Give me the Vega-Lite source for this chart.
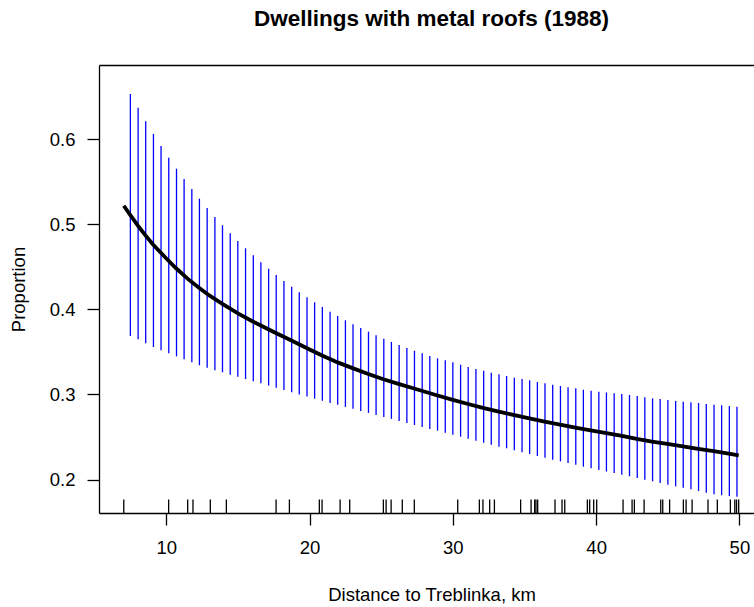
{
  "$schema": "https://vega.github.io/schema/vega-lite/v6.json",
  "width": 655,
  "height": 448,
  "autosize": {"type": "none"},
  "padding": {"left": 99, "top": 65, "right": 0, "bottom": 94},
  "background": "white",
  "config": {
    "view": {"stroke": null},
    "font": "Liberation Sans",
    "axis": {"grid": false, "domainColor": "black", "domainWidth": 1.3, "tickColor": "black", "tickWidth": 1.3, "labelColor": "black", "titleColor": "black", "labelFont": "Liberation Sans", "titleFont": "Liberation Sans", "labelFontSize": 18.5, "titleFontSize": 18.5, "titleFontWeight": "normal"}
  },
  "title": {
    "text": "Dwellings with metal roofs (1988)",
    "anchor": "middle",
    "frame": "group",
    "offset": 35,
    "dx": 5,
    "fontSize": 22.5,
    "fontWeight": "bold",
    "font": "Liberation Sans",
    "color": "black"
  },
  "datasets": {
    "band": [
      {"x": 7.49, "lo": 0.3688, "hi": 0.6535},
      {"x": 8.03, "lo": 0.3649, "hi": 0.6374},
      {"x": 8.56, "lo": 0.3602, "hi": 0.6214},
      {"x": 9.10, "lo": 0.3559, "hi": 0.6065},
      {"x": 9.63, "lo": 0.3520, "hi": 0.5924},
      {"x": 10.17, "lo": 0.3485, "hi": 0.5786},
      {"x": 10.71, "lo": 0.3449, "hi": 0.5656},
      {"x": 11.24, "lo": 0.3414, "hi": 0.5535},
      {"x": 11.78, "lo": 0.3379, "hi": 0.5418},
      {"x": 12.31, "lo": 0.3344, "hi": 0.5304},
      {"x": 12.85, "lo": 0.3315, "hi": 0.5194},
      {"x": 13.39, "lo": 0.3285, "hi": 0.5088},
      {"x": 13.92, "lo": 0.3261, "hi": 0.4991},
      {"x": 14.46, "lo": 0.3233, "hi": 0.4896},
      {"x": 14.99, "lo": 0.3209, "hi": 0.4806},
      {"x": 15.53, "lo": 0.3182, "hi": 0.4720},
      {"x": 16.07, "lo": 0.3156, "hi": 0.4638},
      {"x": 16.60, "lo": 0.3132, "hi": 0.4556},
      {"x": 17.14, "lo": 0.3105, "hi": 0.4480},
      {"x": 17.67, "lo": 0.3078, "hi": 0.4406},
      {"x": 18.21, "lo": 0.3052, "hi": 0.4335},
      {"x": 18.75, "lo": 0.3026, "hi": 0.4268},
      {"x": 19.28, "lo": 0.3000, "hi": 0.4202},
      {"x": 19.82, "lo": 0.2975, "hi": 0.4144},
      {"x": 20.35, "lo": 0.2951, "hi": 0.4085},
      {"x": 20.89, "lo": 0.2926, "hi": 0.4029},
      {"x": 21.43, "lo": 0.2901, "hi": 0.3974},
      {"x": 21.96, "lo": 0.2878, "hi": 0.3924},
      {"x": 22.50, "lo": 0.2854, "hi": 0.3873},
      {"x": 23.03, "lo": 0.2831, "hi": 0.3826},
      {"x": 23.57, "lo": 0.2807, "hi": 0.3782},
      {"x": 24.11, "lo": 0.2784, "hi": 0.3739},
      {"x": 24.64, "lo": 0.2760, "hi": 0.3696},
      {"x": 25.18, "lo": 0.2736, "hi": 0.3656},
      {"x": 25.71, "lo": 0.2713, "hi": 0.3618},
      {"x": 26.25, "lo": 0.2689, "hi": 0.3582},
      {"x": 26.79, "lo": 0.2666, "hi": 0.3547},
      {"x": 27.32, "lo": 0.2642, "hi": 0.3515},
      {"x": 27.86, "lo": 0.2619, "hi": 0.3485},
      {"x": 28.39, "lo": 0.2595, "hi": 0.3453},
      {"x": 28.93, "lo": 0.2574, "hi": 0.3426},
      {"x": 29.47, "lo": 0.2551, "hi": 0.3403},
      {"x": 30.00, "lo": 0.2527, "hi": 0.3379},
      {"x": 30.54, "lo": 0.2504, "hi": 0.3351},
      {"x": 31.07, "lo": 0.2480, "hi": 0.3324},
      {"x": 31.61, "lo": 0.2456, "hi": 0.3300},
      {"x": 32.15, "lo": 0.2433, "hi": 0.3280},
      {"x": 32.68, "lo": 0.2409, "hi": 0.3256},
      {"x": 33.22, "lo": 0.2386, "hi": 0.3238},
      {"x": 33.75, "lo": 0.2367, "hi": 0.3218},
      {"x": 34.29, "lo": 0.2344, "hi": 0.3198},
      {"x": 34.83, "lo": 0.2320, "hi": 0.3182},
      {"x": 35.36, "lo": 0.2300, "hi": 0.3167},
      {"x": 35.90, "lo": 0.2276, "hi": 0.3147},
      {"x": 36.43, "lo": 0.2256, "hi": 0.3132},
      {"x": 36.97, "lo": 0.2233, "hi": 0.3115},
      {"x": 37.51, "lo": 0.2214, "hi": 0.3100},
      {"x": 38.04, "lo": 0.2194, "hi": 0.3085},
      {"x": 38.58, "lo": 0.2174, "hi": 0.3073},
      {"x": 39.11, "lo": 0.2151, "hi": 0.3056},
      {"x": 39.65, "lo": 0.2132, "hi": 0.3045},
      {"x": 40.19, "lo": 0.2112, "hi": 0.3033},
      {"x": 40.72, "lo": 0.2094, "hi": 0.3024},
      {"x": 41.26, "lo": 0.2078, "hi": 0.3015},
      {"x": 41.79, "lo": 0.2056, "hi": 0.3006},
      {"x": 42.33, "lo": 0.2038, "hi": 0.2994},
      {"x": 42.87, "lo": 0.2018, "hi": 0.2982},
      {"x": 43.40, "lo": 0.1998, "hi": 0.2967},
      {"x": 43.94, "lo": 0.1979, "hi": 0.2955},
      {"x": 44.47, "lo": 0.1959, "hi": 0.2947},
      {"x": 45.01, "lo": 0.1939, "hi": 0.2935},
      {"x": 45.55, "lo": 0.1920, "hi": 0.2924},
      {"x": 46.08, "lo": 0.1904, "hi": 0.2915},
      {"x": 46.62, "lo": 0.1885, "hi": 0.2908},
      {"x": 47.15, "lo": 0.1865, "hi": 0.2900},
      {"x": 47.69, "lo": 0.1845, "hi": 0.2888},
      {"x": 48.23, "lo": 0.1828, "hi": 0.2880},
      {"x": 48.76, "lo": 0.1815, "hi": 0.2873},
      {"x": 49.30, "lo": 0.1805, "hi": 0.2865},
      {"x": 49.83, "lo": 0.1796, "hi": 0.2856}
    ],
    "fit": [
      {"x": 7.03, "p": 0.522},
      {"x": 7.49, "p": 0.511},
      {"x": 8.0, "p": 0.499},
      {"x": 8.5, "p": 0.488},
      {"x": 9.07, "p": 0.4765},
      {"x": 10.0, "p": 0.460},
      {"x": 10.68, "p": 0.4485},
      {"x": 11.5, "p": 0.436},
      {"x": 12.28, "p": 0.4255},
      {"x": 13.0, "p": 0.4165},
      {"x": 13.91, "p": 0.4065},
      {"x": 15.0, "p": 0.3955},
      {"x": 16.0, "p": 0.3862},
      {"x": 16.56, "p": 0.3815},
      {"x": 17.5, "p": 0.3735},
      {"x": 18.73, "p": 0.3635},
      {"x": 20.0, "p": 0.353},
      {"x": 20.87, "p": 0.3458},
      {"x": 22.0, "p": 0.3375},
      {"x": 23.0, "p": 0.331},
      {"x": 24.0, "p": 0.3248},
      {"x": 25.15, "p": 0.318},
      {"x": 26.2, "p": 0.3125},
      {"x": 27.29, "p": 0.307},
      {"x": 28.93, "p": 0.2988},
      {"x": 30.0, "p": 0.2937},
      {"x": 31.06, "p": 0.2888},
      {"x": 32.1, "p": 0.2843},
      {"x": 33.2, "p": 0.2798},
      {"x": 34.3, "p": 0.2757},
      {"x": 35.34, "p": 0.272},
      {"x": 36.4, "p": 0.2682},
      {"x": 37.48, "p": 0.2645},
      {"x": 38.55, "p": 0.261},
      {"x": 39.62, "p": 0.2577},
      {"x": 40.72, "p": 0.2545},
      {"x": 41.8, "p": 0.2513},
      {"x": 42.83, "p": 0.2478},
      {"x": 43.9, "p": 0.2447},
      {"x": 44.97, "p": 0.2418},
      {"x": 46.05, "p": 0.2389},
      {"x": 47.12, "p": 0.236},
      {"x": 48.2, "p": 0.2334},
      {"x": 49.25, "p": 0.2305},
      {"x": 49.95, "p": 0.2285}
    ],
    "rug": [
      {"d": 7.03}, {"d": 10.16}, {"d": 11.49}, {"d": 11.86}, {"d": 13.07}, {"d": 14.19}, {"d": 17.66}, {"d": 18.59}, {"d": 20.68}, {"d": 20.87},
      {"d": 22.13}, {"d": 22.80}, {"d": 25.15}, {"d": 25.34}, {"d": 25.69}, {"d": 26.47}, {"d": 27.31}, {"d": 30.34}, {"d": 31.85}, {"d": 32.10},
      {"d": 32.57}, {"d": 32.90}, {"d": 34.73}, {"d": 35.46}, {"d": 35.71}, {"d": 35.80}, {"d": 35.92}, {"d": 37.13}, {"d": 37.62}, {"d": 37.81},
      {"d": 39.39}, {"d": 39.55}, {"d": 39.83}, {"d": 40.04}, {"d": 41.88}, {"d": 42.51}, {"d": 42.67}, {"d": 43.35}, {"d": 44.51}, {"d": 44.65},
      {"d": 45.13}, {"d": 46.09}, {"d": 46.28}, {"d": 46.70}, {"d": 47.81}, {"d": 48.46}, {"d": 49.37}, {"d": 49.68}, {"d": 49.80}, {"d": 49.95}
    ]
  },
  "resolve": {"axis": {"x": "independent", "y": "independent"}},
  "layer": [
    {
      "data": {"name": "band"},
      "mark": {"type": "rule", "color": "#0000FF", "strokeWidth": 1.3},
      "encoding": {
        "x": {"field": "x", "type": "quantitative",
              "scale": {"domain": [5.30, 51.02], "nice": false, "zero": false},
              "axis": {"orient": "bottom", "values": [10, 20, 30, 40, 50], "tickSize": 12, "labelPadding": 13,
                       "title": "Distance to Treblinka, km", "titleX": 332.5, "titleY": 87, "titleAlign": "center", "titleBaseline": "alphabetic",
                       "labelFlush": false}},
        "y": {"field": "lo", "type": "quantitative",
              "scale": {"domain": [0.1606, 0.6876], "nice": false, "zero": false},
              "axis": {"orient": "left", "values": [0.2, 0.3, 0.4, 0.5, 0.6], "format": ".1f", "tickSize": 12, "labelPadding": 12,
                       "title": "Proportion", "titleX": -80.7, "titleY": 224, "titleAngle": -90, "titleAlign": "center", "titleBaseline": "middle"}},
        "y2": {"field": "hi"}
      }
    },
    {
      "data": {"name": "fit"},
      "mark": {"type": "line", "color": "black", "strokeWidth": 3.8, "strokeCap": "butt"},
      "encoding": {
        "x": {"field": "x", "type": "quantitative", "axis": {"orient": "top", "labels": false, "ticks": false, "title": null, "domain": true}},
        "y": {"field": "p", "type": "quantitative", "axis": {"orient": "right", "labels": false, "ticks": false, "title": null, "domain": false}}
      }
    },
    {
      "data": {"name": "rug"},
      "mark": {"type": "rule", "color": "black", "strokeWidth": 1.3},
      "encoding": {
        "x": {"field": "d", "type": "quantitative", "axis": null},
        "y": {"datum": 0.1606, "axis": null},
        "y2": {"datum": 0.1765}
      }
    }
  ]
}
